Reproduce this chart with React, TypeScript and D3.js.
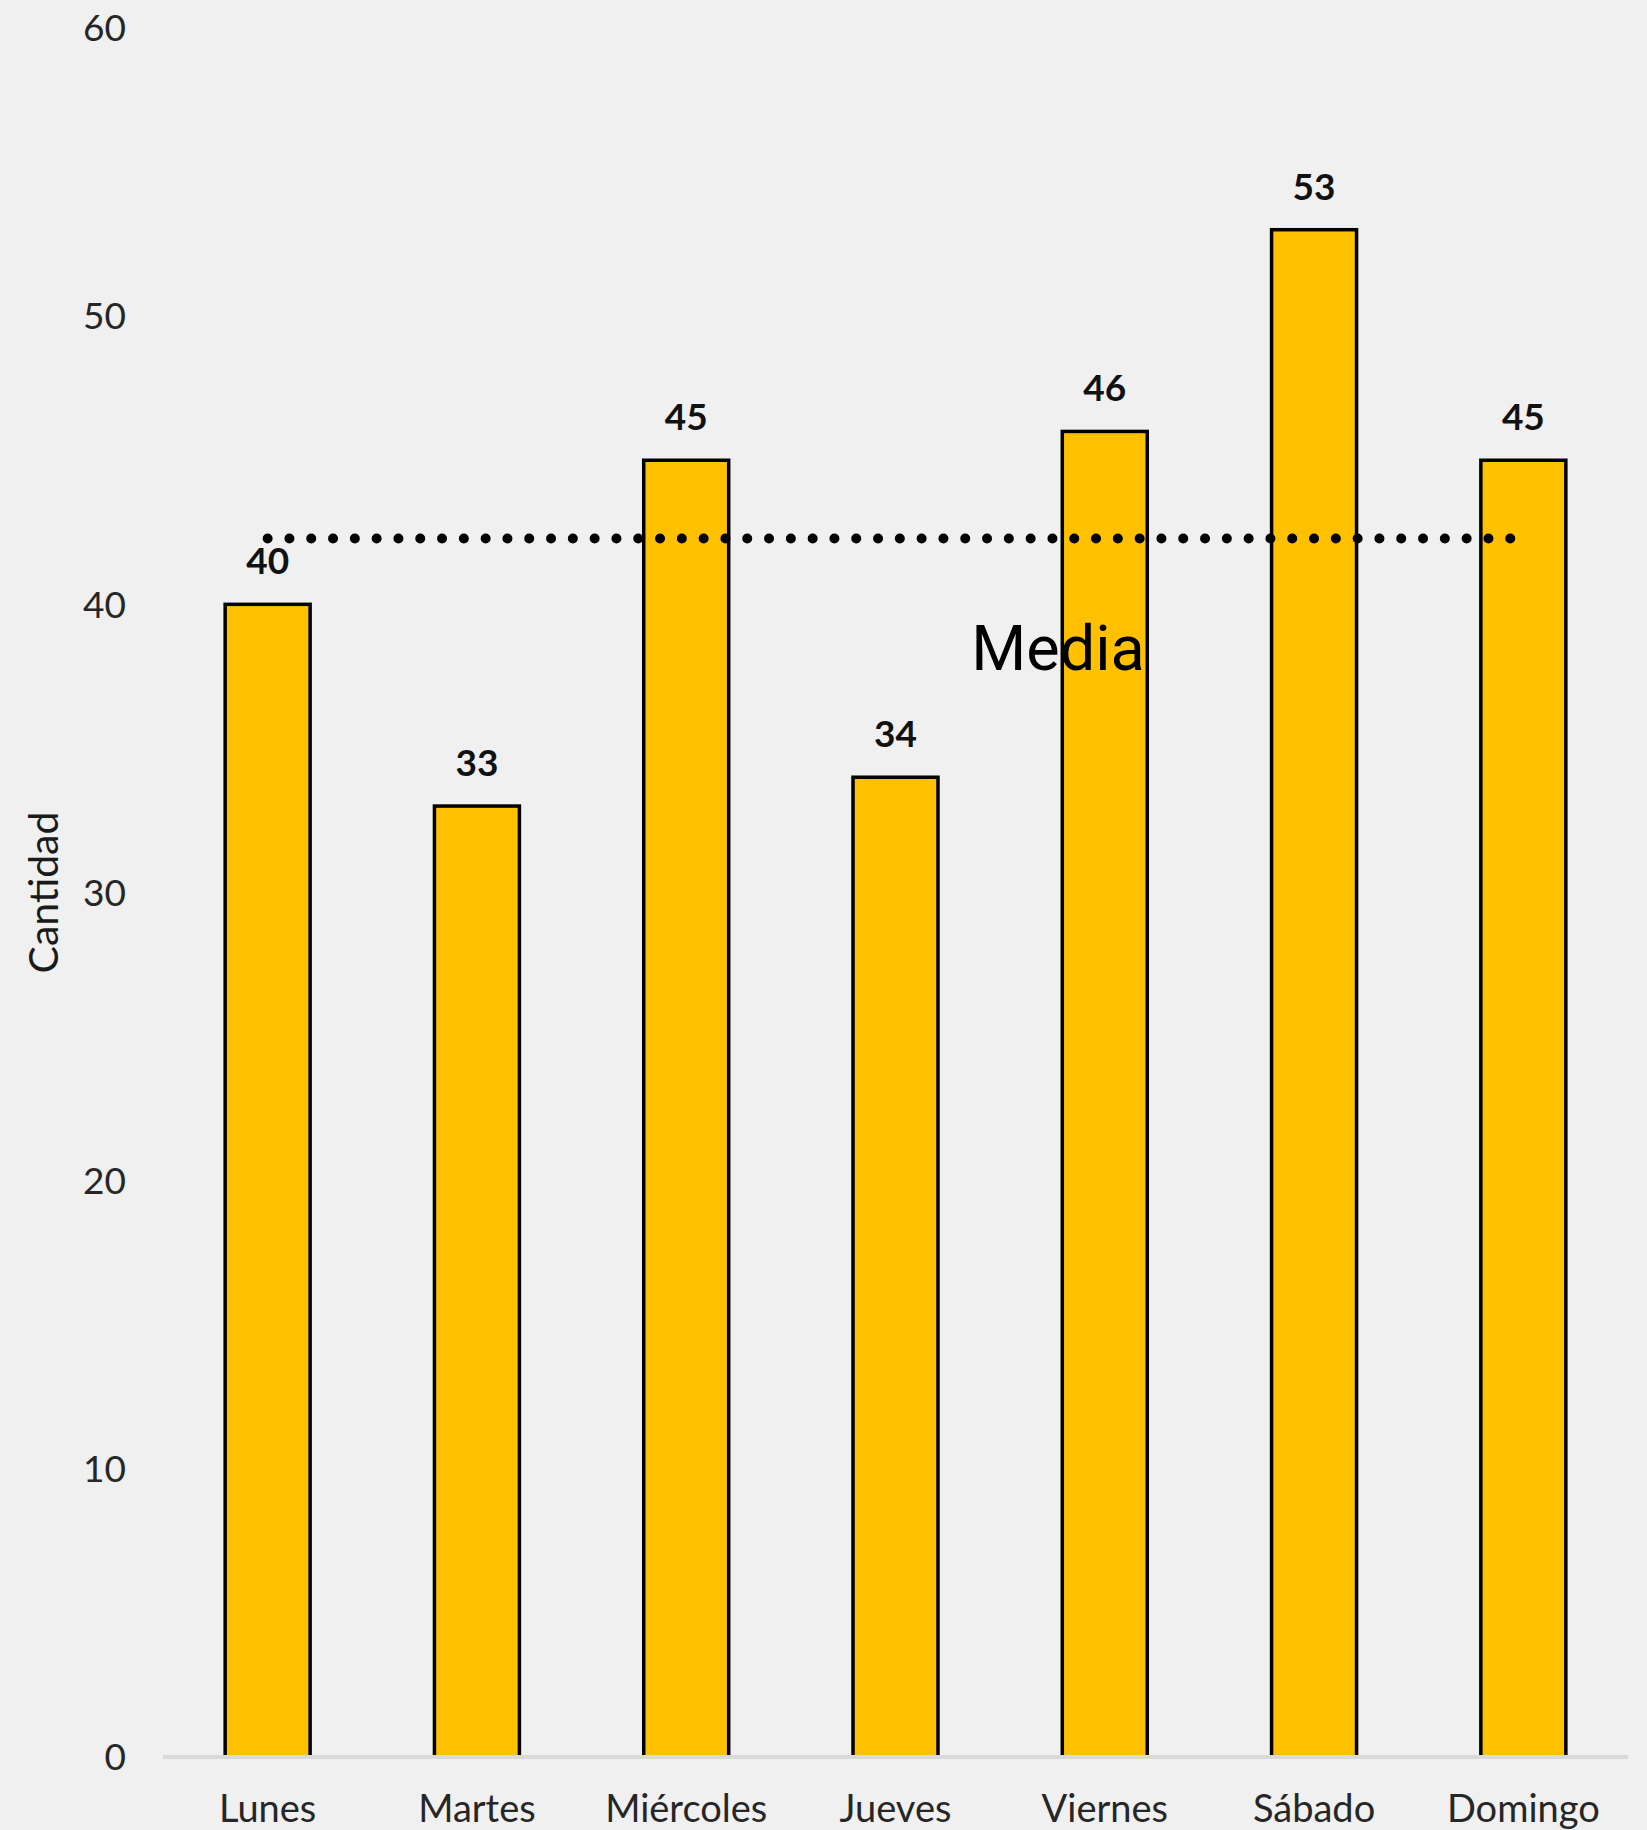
import React from "react";
import * as d3 from "d3";

const categories = ["Lunes", "Martes", "Miércoles", "Jueves", "Viernes", "Sábado", "Domingo"];
const values = [40, 33, 45, 34, 46, 53, 45];
const yTicks = [0, 10, 20, 30, 40, 50, 60];
const yTitle = "Cantidad";
const meanLabel = "Media";

const W = 1647;
const H = 1830;

export default function App() {
  const x = d3
    .scaleBand<string>()
    .domain(categories)
    .range([163, 1628])
    .paddingInner(0.594)
    .paddingOuter(0.297);
  const y = d3.scaleLinear().domain([0, 60]).range([1757, 28]);
  const mean = d3.mean(values) as number;
  const bw = x.bandwidth();
  const cx = (c: string) => (x(c) as number) + bw / 2;
  const font = "Lato, 'Open Sans', sans-serif";

  return (
    <svg
      width={W}
      height={H}
      style={{ position: "absolute", left: 0, top: 0, display: "block" }}
    >
      <rect x={0} y={0} width={W} height={H} fill="#F0F0F0" />
      {yTicks.map((t) => (
        <text
          key={t}
          x={126}
          y={y(t)}
          dy="0.36em"
          textAnchor="end"
          fontFamily={font}
          fontSize={37}
          fill="#262626"
        >
          {t}
        </text>
      ))}
      <text
        transform={`translate(58, ${(y(0) + y(60)) / 2}) rotate(-90)`}
        textAnchor="middle"
        fontFamily={font}
        fontSize={41}
        fill="#1a1a1a"
      >
        {yTitle}
      </text>
      {categories.map((c, i) => (
        <rect
          key={c}
          x={x(c)}
          y={y(values[i])}
          width={bw}
          height={y(0) - y(values[i])}
          fill="#FFC000"
          stroke="#000"
          strokeWidth={3.5}
        />
      ))}
      <line x1={163} x2={1628} y1={y(0)} y2={y(0)} stroke="#D9D9D9" strokeWidth={4} />
      {categories.map((c) => (
        <text
          key={c}
          x={cx(c)}
          y={1822}
          textAnchor="middle"
          fontFamily={font}
          fontSize={38}
          fill="#262626"
        >
          {c}
        </text>
      ))}
      {categories.map((c, i) => (
        <text
          key={c}
          x={cx(c)}
          y={y(values[i]) - 30}
          textAnchor="middle"
          fontFamily={font}
          fontWeight="bold"
          fontSize={37}
          fill="#111"
        >
          {values[i]}
        </text>
      ))}
      <line
        x1={cx(categories[0])}
        x2={cx(categories[categories.length - 1])}
        y1={y(mean)}
        y2={y(mean)}
        stroke="#000"
        strokeWidth={10}
        strokeLinecap="round"
        strokeDasharray="0 21.8"
      />
      <text
        x={1058}
        y={670}
        textAnchor="middle"
        fontFamily="Roboto, sans-serif"
        fontSize={63}
        fill="#000"
      >
        {meanLabel}
      </text>
    </svg>
  );
}
